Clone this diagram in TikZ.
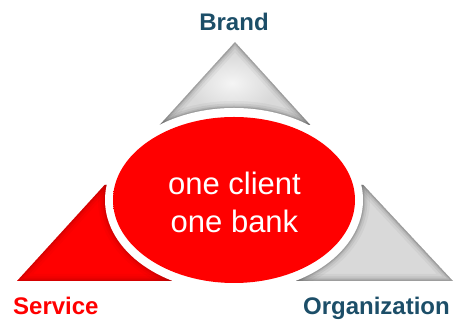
\documentclass[tikz,border=0pt]{standalone}
\usepackage{fontspec}
\setmainfont{Liberation Sans}
\usetikzlibrary{shapes.geometric}
\definecolor{labelblue}{RGB}{28,78,104}
\definecolor{brightred}{RGB}{255,0,0}
% red oval: flat red core, darker soft rim
\pgfdeclareradialshading{ovalshade}{\pgfpoint{0bp}{0bp}}{%
  color(0bp)=(brightred); color(40bp)=(brightred);
  color(46.5bp)=(brightred!88!black); color(50bp)=(brightred!62!black);
  color(100bp)=(brightred!62!black)}
\begin{document}
\begin{tikzpicture}[x=1pt,y=1pt,
  cornerlabel/.style={font=\bfseries\fontsize{24}{28}\selectfont, anchor=base, inner sep=0pt},
  centertext/.style={font=\fontsize{31}{38}\selectfont, text=white, align=center},
  graypiece/.style={fill=gray!30},
  redpiece/.style={fill=brightred}]
\useasboundingbox (0,0) rectangle (455,323);

% corners of the big triangle and the cuts between its three pieces
\coordinate (A) at (17,42);
\coordinate (T) at (235,281);
\coordinate (B) at (453,42);
\coordinate (C) at (234,123);
\coordinate (TL) at (159.6,198);
\coordinate (TR) at (310.4,198);
\coordinate (LT) at (104.6,138);
\coordinate (RT) at (363.4,138);
\coordinate (LM) at (234,138);
\coordinate (BM) at (234,42);

% top piece (grey)
\begin{scope}
  \clip (T) -- (TL) -- (TR) -- cycle;
  \fill[graypiece] (T) -- (TL) -- (TR) -- cycle;
  \shade[inner color=gray!8, outer color=gray!30] (232,240) ellipse [x radius=45, y radius=30];
  \foreach \w/\o in {14/0.04,9/0.06,5/0.08,2.5/0.12} {
    \draw[line width=\w, black, opacity=\o, line join=round] (T) -- (TL) -- (TR) -- cycle;
    \draw[line width=\w, black, opacity=\o] (C) ellipse [x radius=129, y radius=92];
  }
\end{scope}

% left piece (red)
\begin{scope}
  \clip (A) -- (LT) -- (LM) -- (BM) -- cycle;
  \fill[redpiece] (A) -- (LT) -- (LM) -- (BM) -- cycle;
  \foreach \w/\o in {14/0.04,9/0.06,5/0.08,2.5/0.12} {
    \draw[line width=\w, brightred!40!black, opacity=\o, line join=round] (A) -- (LT) -- (LM) -- (BM) -- cycle;
    \draw[line width=\w, brightred!40!black, opacity=\o] (C) ellipse [x radius=129, y radius=92];
  }
\end{scope}

% right piece (grey)
\begin{scope}
  \clip (B) -- (RT) -- (LM) -- (BM) -- cycle;
  \fill[graypiece] (B) -- (RT) -- (LM) -- (BM) -- cycle;
  \foreach \w/\o in {14/0.04,9/0.06,5/0.08,2.5/0.12} {
    \draw[line width=\w, black, opacity=\o, line join=round] (B) -- (RT) -- (LM) -- (BM) -- cycle;
    \draw[line width=\w, black, opacity=\o] (C) ellipse [x radius=129, y radius=92];
  }
\end{scope}

% white gap around the oval
\fill[white] (C) ellipse [x radius=129, y radius=92];

% central oval with its text
\node[shape=ellipse, shade, shading=ovalshade, minimum width=242pt, minimum height=166pt,
      inner sep=0pt] (oval) at (C) {};
\node[centertext] (motto) at (234.5,121) {one client\\one bank};

% corner labels
\node[cornerlabel, text=labelblue] (brand) at (234,292) {Brand};
\node[cornerlabel, text=brightred, anchor=base west] (service) at (13,8) {Service};
\node[cornerlabel, text=labelblue, anchor=base east] (organization) at (450,8) {Organization};
\end{tikzpicture}
\end{document}
